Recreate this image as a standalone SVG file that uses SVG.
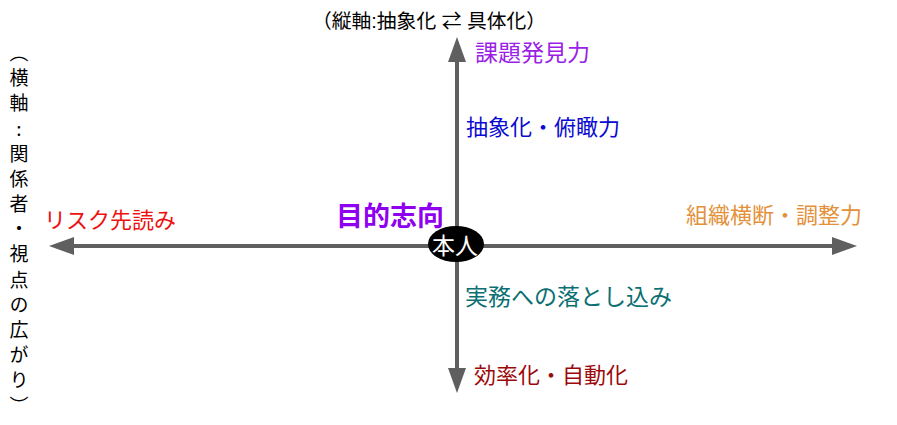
<svg xmlns="http://www.w3.org/2000/svg" width="897" height="425" viewBox="0 0 897 425">
<style>
text{font-family:"Noto Sans CJK JP","Noto Sans CJK SC",sans-serif;}
.lbl{font-size:22px;}
.axis{stroke:#5f5f5f;stroke-width:4;fill:none;marker-start:url(#ah);marker-end:url(#ah);}
</style>
<defs>
<marker id="ah" markerUnits="userSpaceOnUse" markerWidth="26" markerHeight="20" viewBox="0 -10 26 20" refX="0" refY="0" orient="auto-start-reverse">
<path d="M0,-9 L25,0 L0,9 z" fill="#5f5f5f"/>
</marker>
</defs>
<rect width="897" height="425" fill="#ffffff"/>
<g id="connectors">
<line class="axis" x1="457" y1="62" x2="457" y2="368"/>
<line class="axis" x1="74" y1="246" x2="832" y2="246"/>
</g>
<g id="axis-titles">
<text x="312" y="28" style="font-family:'Liberation Sans','Noto Sans CJK JP',sans-serif;font-size:19.8px" fill="#000">（縦軸:抽象化 ⇄ 具体化）</text>
<text x="19" y="43" style="writing-mode:vertical-rl;font-size:19px;letter-spacing:6.2px" fill="#000">（横軸<tspan style="text-orientation:upright">:</tspan>関係者・視点の広がり）</text>
</g>
<g id="node-self">
<ellipse cx="456" cy="244" rx="28" ry="18" fill="#000"/>
<text x="455" y="254" text-anchor="middle" style="font-size:23px" fill="#fff">本人</text>
</g>
<g id="node-purpose">
<text x="336" y="226" style="font-size:27px;font-weight:bold" fill="#9000f0">目的志向</text>
</g>
<g id="node-top">
<text x="475" y="61" style="font-size:23px" fill="#9a1ee6">課題発見力</text>
</g>
<g id="node-upper">
<text class="lbl" x="466" y="135" fill="#0a0ad0">抽象化・俯瞰力</text>
</g>
<g id="node-left">
<text class="lbl" x="44" y="228" fill="#ee1111">リスク先読み</text>
</g>
<g id="node-right">
<text class="lbl" x="686" y="223" fill="#e3913a">組織横断・調整力</text>
</g>
<g id="node-lower">
<text x="465" y="305" style="font-size:23px" fill="#0b6f73">実務への落とし込み</text>
</g>
<g id="node-bottom">
<text class="lbl" x="474" y="383" fill="#9b0a0a">効率化・自動化</text>
</g>
</svg>
